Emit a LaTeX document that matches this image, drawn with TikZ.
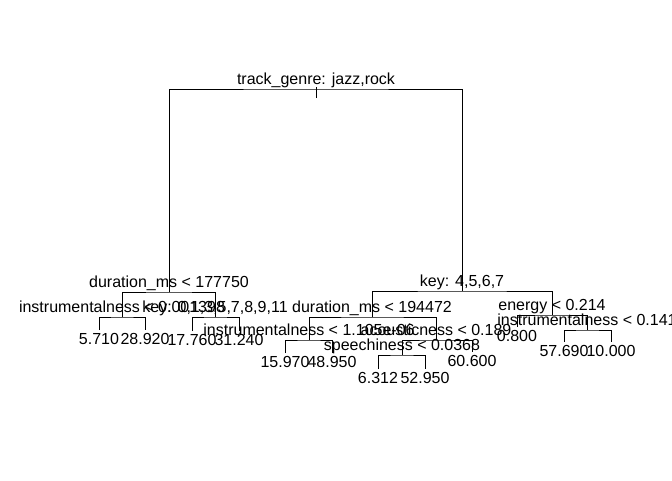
\documentclass[tikz,border=0pt]{standalone}
\usepackage{fontspec}
\setmainfont{Liberation Sans}
\usetikzlibrary{positioning}

\begin{document}
\begin{tikzpicture}[x=1pt, y=-1pt,
  split/.style={anchor=base, inner sep=0pt, font=\fontsize{16}{19}\selectfont},
  leaf/.style={inner sep=0pt, font=\fontsize{16}{19}\selectfont},
  edge/.style={line width=0.9pt}]

  \useasboundingbox (0,0) rectangle (672,480);

  % split points
  \coordinate (root) at (316,89);
  \coordinate (stem) at (316,98);
  \coordinate (d1) at (169,292);
  \coordinate (i1) at (122,317);
  \coordinate (k1) at (215,317);
  \coordinate (k2) at (462,291);
  \coordinate (d2) at (372,317);
  \coordinate (i2) at (309,340);
  \coordinate (a1) at (436,340);
  \coordinate (s1) at (402,355);
  \coordinate (e1) at (552,315);
  \coordinate (i3) at (587,330);

  % leaf points
  \coordinate (v1)  at (99,330);
  \coordinate (v2)  at (145,330);
  \coordinate (v3)  at (192,331);
  \coordinate (v4)  at (239,331);
  \coordinate (v5)  at (285,353);
  \coordinate (v6)  at (332,353);
  \coordinate (v7)  at (378,369);
  \coordinate (v8)  at (425,369);
  \coordinate (v9)  at (472,352);
  \coordinate (v10) at (517,327);
  \coordinate (v11) at (564,342);
  \coordinate (v12) at (611,342);

  \draw[edge] (stem) -- ([yshift=2pt]root);
  \draw[edge] (d1) |- (root) -| (k2);
  \draw[edge] (i1) |- (d1) -| (k1);
  \draw[edge] (v1) |- (i1) -| (v2);
  \draw[edge] (v3) |- (k1) -| (v4);
  \draw[edge] (d2) |- (k2) -| (e1);
  \draw[edge] (i2) |- (d2) -| (a1);
  \draw[edge] (v5) |- (i2) -| (v6);
  \draw[edge] (s1) |- (a1) -| (v9);
  \draw[edge] (v7) |- (s1) -| (v8);
  \draw[edge] (v10) |- (e1) -| (i3);
  \draw[edge] (v11) |- (i3) -| (v12);

  % split labels
  \node[split, above=5pt of root, anchor=base] (t-root) {track\_genre: jazz,rock};
  \node[split, above=5pt of d1, anchor=base] (t-d1) {duration\_ms < 177750};
  \node[split, above=5pt of i1, anchor=base] (t-i1) {instrumentalness < 0.001398};
  \node[split, above=5pt of k1, anchor=base] (t-k1) {key: 0,1,3,5,7,8,9,11};
  \node[split, above=5pt of k2, anchor=base] (t-k2) {key: 4,5,6,7};
  \node[split, above=5pt of d2, anchor=base] (t-d2) {duration\_ms < 194472};
  \node[split, above=5pt of i2, anchor=base] (t-i2) {instrumentalness < 1.105e-06};
  \node[split, above=5pt of a1, anchor=base] (t-a1) {acousticness < 0.189};
  \node[split, above=5pt of s1, anchor=base] (t-s1) {speechiness < 0.0368};
  \node[split, above=5pt of e1, anchor=base] (t-e1) {energy < 0.214};
  \node[split, above=5pt of i3, anchor=base] (t-i3) {instrumentalness < 0.141};

  % leaf values
  \node[leaf, below=3.5pt of v1]  (t-v1)  {5.710};
  \node[leaf, below=3.5pt of v2]  (t-v2)  {28.920};
  \node[leaf, below=3.5pt of v3]  (t-v3)  {17.760};
  \node[leaf, below=3.5pt of v4]  (t-v4)  {31.240};
  \node[leaf, below=3.5pt of v5]  (t-v5)  {15.970};
  \node[leaf, below=3.5pt of v6]  (t-v6)  {48.950};
  \node[leaf, below=3.5pt of v7]  (t-v7)  {6.312};
  \node[leaf, below=3.5pt of v8]  (t-v8)  {52.950};
  \node[leaf, below=3.5pt of v9]  (t-v9)  {60.600};
  \node[leaf, below=3.5pt of v10] (t-v10) {0.800};
  \node[leaf, below=3.5pt of v11] (t-v11) {57.690};
  \node[leaf, below=3.5pt of v12] (t-v12) {10.000};
\end{tikzpicture}
\end{document}
